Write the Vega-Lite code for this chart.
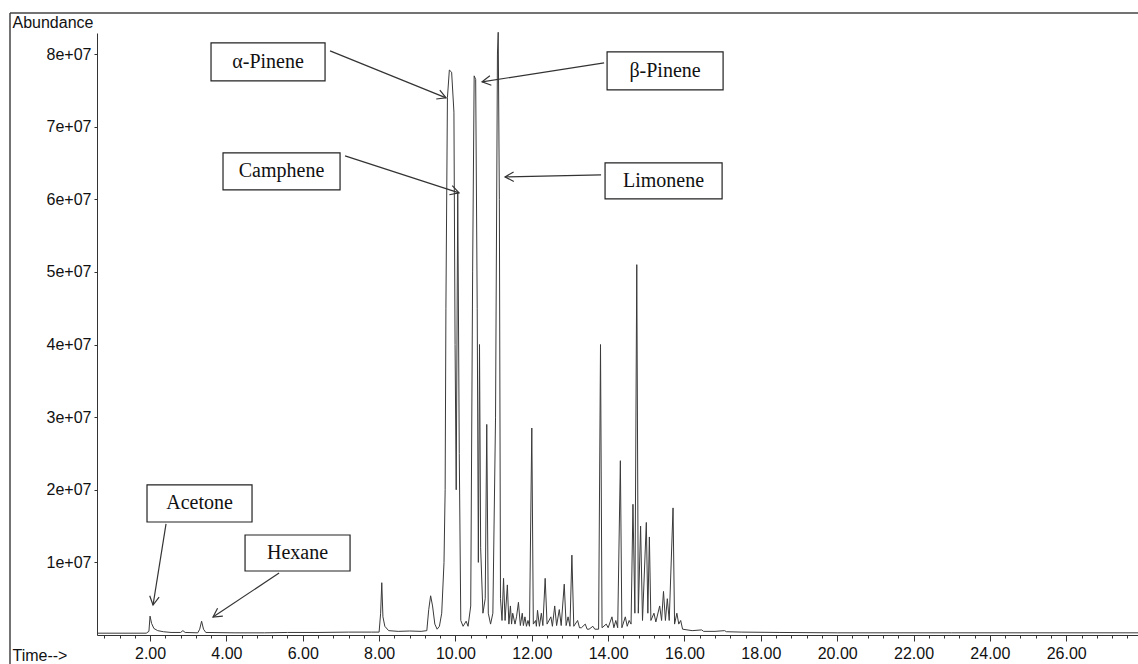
{
  "$schema": "https://vega.github.io/schema/vega-lite/v6.json",
  "width": 1041,
  "height": 602,
  "autosize": {"type": "none"},
  "padding": {"left": 97, "top": 33, "right": 0, "bottom": 29},
  "background": "white",
  "config": {"view": {"stroke": null}, "font": "Liberation Sans"},
  "resolve": {"axis": {"x": "independent", "y": "independent"}},
  "datasets": {
    "tic": [
      {"time": 0.61, "abundance": 250000}, {"time": 1.9, "abundance": 250000}, {"time": 1.97, "abundance": 500000},
      {"time": 2.0, "abundance": 2600000}, {"time": 2.04, "abundance": 1600000}, {"time": 2.1, "abundance": 900000},
      {"time": 2.2, "abundance": 600000}, {"time": 2.35, "abundance": 450000}, {"time": 2.55, "abundance": 350000},
      {"time": 2.8, "abundance": 350000}, {"time": 2.86, "abundance": 600000}, {"time": 2.92, "abundance": 350000},
      {"time": 3.25, "abundance": 300000}, {"time": 3.3, "abundance": 800000}, {"time": 3.35, "abundance": 1900000},
      {"time": 3.4, "abundance": 800000}, {"time": 3.46, "abundance": 350000}, {"time": 4.2, "abundance": 300000},
      {"time": 5.0, "abundance": 300000}, {"time": 5.6, "abundance": 350000}, {"time": 6.4, "abundance": 350000},
      {"time": 7.2, "abundance": 400000}, {"time": 7.8, "abundance": 400000}, {"time": 8.0, "abundance": 400000},
      {"time": 8.04, "abundance": 3000000}, {"time": 8.07, "abundance": 7200000}, {"time": 8.1, "abundance": 2500000},
      {"time": 8.15, "abundance": 1200000}, {"time": 8.25, "abundance": 600000}, {"time": 8.5, "abundance": 500000},
      {"time": 8.8, "abundance": 550000}, {"time": 9.1, "abundance": 500000}, {"time": 9.25, "abundance": 600000},
      {"time": 9.3, "abundance": 3500000}, {"time": 9.35, "abundance": 5400000}, {"time": 9.4, "abundance": 4000000},
      {"time": 9.46, "abundance": 1500000}, {"time": 9.52, "abundance": 800000}, {"time": 9.58, "abundance": 1200000},
      {"time": 9.64, "abundance": 3000000}, {"time": 9.7, "abundance": 10000000}, {"time": 9.73, "abundance": 20000000},
      {"time": 9.75, "abundance": 45000000}, {"time": 9.79, "abundance": 74000000}, {"time": 9.84, "abundance": 77800000},
      {"time": 9.9, "abundance": 77500000}, {"time": 9.96, "abundance": 72000000}, {"time": 9.99, "abundance": 40000000},
      {"time": 10.02, "abundance": 20000000}, {"time": 10.06, "abundance": 61000000}, {"time": 10.1, "abundance": 25000000},
      {"time": 10.14, "abundance": 2000000}, {"time": 10.2, "abundance": 1200000}, {"time": 10.28, "abundance": 1900000},
      {"time": 10.33, "abundance": 1200000}, {"time": 10.4, "abundance": 4000000}, {"time": 10.45, "abundance": 50000000},
      {"time": 10.49, "abundance": 77000000}, {"time": 10.53, "abundance": 76500000}, {"time": 10.57, "abundance": 45000000},
      {"time": 10.6, "abundance": 10000000}, {"time": 10.63, "abundance": 40000000}, {"time": 10.66, "abundance": 12000000},
      {"time": 10.72, "abundance": 3000000}, {"time": 10.78, "abundance": 5000000}, {"time": 10.82, "abundance": 29000000},
      {"time": 10.86, "abundance": 3000000}, {"time": 10.92, "abundance": 1500000}, {"time": 10.98, "abundance": 3000000},
      {"time": 11.05, "abundance": 30000000}, {"time": 11.1, "abundance": 80000000}, {"time": 11.12, "abundance": 83000000},
      {"time": 11.15, "abundance": 60000000}, {"time": 11.18, "abundance": 5000000}, {"time": 11.22, "abundance": 2000000},
      {"time": 11.26, "abundance": 7800000}, {"time": 11.3, "abundance": 2000000}, {"time": 11.36, "abundance": 6900000},
      {"time": 11.4, "abundance": 1500000}, {"time": 11.44, "abundance": 4000000}, {"time": 11.47, "abundance": 1500000},
      {"time": 11.5, "abundance": 3000000}, {"time": 11.56, "abundance": 1500000}, {"time": 11.6, "abundance": 2500000},
      {"time": 11.65, "abundance": 4500000}, {"time": 11.7, "abundance": 1300000}, {"time": 11.75, "abundance": 3000000},
      {"time": 11.78, "abundance": 1300000}, {"time": 11.82, "abundance": 2500000}, {"time": 11.86, "abundance": 1200000},
      {"time": 11.9, "abundance": 2000000}, {"time": 11.94, "abundance": 1200000}, {"time": 12.0, "abundance": 28500000},
      {"time": 12.04, "abundance": 1500000}, {"time": 12.1, "abundance": 2000000}, {"time": 12.12, "abundance": 1200000},
      {"time": 12.15, "abundance": 3400000}, {"time": 12.2, "abundance": 1200000}, {"time": 12.25, "abundance": 3000000},
      {"time": 12.29, "abundance": 1300000}, {"time": 12.35, "abundance": 7800000}, {"time": 12.4, "abundance": 1500000},
      {"time": 12.5, "abundance": 2500000}, {"time": 12.54, "abundance": 1200000}, {"time": 12.6, "abundance": 4000000},
      {"time": 12.65, "abundance": 1300000}, {"time": 12.72, "abundance": 3500000}, {"time": 12.77, "abundance": 1300000},
      {"time": 12.85, "abundance": 7000000}, {"time": 12.9, "abundance": 1300000}, {"time": 12.95, "abundance": 2500000},
      {"time": 13.0, "abundance": 1200000}, {"time": 13.05, "abundance": 11000000}, {"time": 13.1, "abundance": 1200000},
      {"time": 13.2, "abundance": 2000000}, {"time": 13.25, "abundance": 1000000}, {"time": 13.3, "abundance": 1000000},
      {"time": 13.4, "abundance": 1500000}, {"time": 13.45, "abundance": 800000}, {"time": 13.5, "abundance": 800000},
      {"time": 13.6, "abundance": 1200000}, {"time": 13.65, "abundance": 800000}, {"time": 13.75, "abundance": 800000},
      {"time": 13.8, "abundance": 40000000}, {"time": 13.84, "abundance": 1000000}, {"time": 13.95, "abundance": 1500000},
      {"time": 14.0, "abundance": 1000000}, {"time": 14.1, "abundance": 2500000}, {"time": 14.15, "abundance": 1000000},
      {"time": 14.2, "abundance": 2000000}, {"time": 14.25, "abundance": 1000000}, {"time": 14.32, "abundance": 24000000},
      {"time": 14.36, "abundance": 1000000}, {"time": 14.45, "abundance": 2500000}, {"time": 14.5, "abundance": 1200000},
      {"time": 14.55, "abundance": 2000000}, {"time": 14.6, "abundance": 1500000}, {"time": 14.65, "abundance": 18000000},
      {"time": 14.7, "abundance": 3000000}, {"time": 14.75, "abundance": 51000000}, {"time": 14.79, "abundance": 3000000},
      {"time": 14.85, "abundance": 15000000}, {"time": 14.9, "abundance": 2000000}, {"time": 15.0, "abundance": 15500000},
      {"time": 15.04, "abundance": 3000000}, {"time": 15.08, "abundance": 13500000}, {"time": 15.12, "abundance": 2000000},
      {"time": 15.2, "abundance": 3000000}, {"time": 15.25, "abundance": 1800000}, {"time": 15.35, "abundance": 4000000},
      {"time": 15.4, "abundance": 2000000}, {"time": 15.45, "abundance": 6000000}, {"time": 15.5, "abundance": 2000000},
      {"time": 15.55, "abundance": 5000000}, {"time": 15.6, "abundance": 2000000}, {"time": 15.7, "abundance": 17500000},
      {"time": 15.74, "abundance": 1500000}, {"time": 15.8, "abundance": 3000000}, {"time": 15.85, "abundance": 1500000},
      {"time": 15.9, "abundance": 2000000}, {"time": 15.95, "abundance": 800000}, {"time": 16.2, "abundance": 600000},
      {"time": 16.45, "abundance": 700000}, {"time": 16.5, "abundance": 500000}, {"time": 16.8, "abundance": 500000},
      {"time": 17.05, "abundance": 600000}, {"time": 17.1, "abundance": 450000}, {"time": 17.5, "abundance": 400000},
      {"time": 18.5, "abundance": 350000}, {"time": 20.0, "abundance": 300000}, {"time": 23.0, "abundance": 300000},
      {"time": 27.88, "abundance": 300000}
    ],
    "boxes": [
      {"label": "α-Pinene", "t1": 3.597, "t2": 6.584, "v1": 81540000, "v2": 76310000, "tc": 5.09, "vc": 78900000},
      {"label": "β-Pinene", "t1": 13.972, "t2": 17.011, "v1": 80300000, "v2": 75070000, "tc": 15.49, "vc": 77700000},
      {"label": "Camphene", "t1": 3.911, "t2": 6.977, "v1": 66390000, "v2": 61290000, "tc": 5.444, "vc": 63840000},
      {"label": "Limonene", "t1": 13.919, "t2": 16.985, "v1": 65010000, "v2": 60060000, "tc": 15.452, "vc": 62500000},
      {"label": "Acetone", "t1": 1.92, "t2": 4.671, "v1": 20660000, "v2": 15560000, "tc": 3.296, "vc": 18110000},
      {"label": "Hexane", "t1": 4.488, "t2": 7.239, "v1": 13770000, "v2": 8815000, "tc": 5.863, "vc": 11290000}
    ],
    "arrows": [
      {"label": "α-Pinene", "t1": 6.715, "v1": 80440000, "t2": 9.754, "v2": 73970000},
      {"label": "Camphene", "t1": 7.108, "v1": 65980000, "t2": 10.094, "v2": 60880000},
      {"label": "β-Pinene", "t1": 13.894, "v1": 78790000, "t2": 10.697, "v2": 76170000},
      {"label": "Limonene", "t1": 13.814, "v1": 63360000, "t2": 11.299, "v2": 63090000},
      {"label": "Acetone", "t1": 2.418, "v1": 15290000, "t2": 2.078, "v2": 4130000},
      {"label": "Hexane", "t1": 5.38, "v1": 8540000, "t2": 3.649, "v2": 2480000}
    ]
  },
  "layer": [
    {
      "data": {"values": [{}]},
      "mark": {"type": "rule", "clip": false, "color": "#444", "strokeWidth": 1.5},
      "encoding": {
        "x": {"datum": -1.669, "type": "quantitative", "axis": null},
        "y": {"datum": 85670000, "type": "quantitative", "axis": null},
        "y2": {"datum": -5000000}
      }
    },
    {
      "data": {"values": [{}]},
      "mark": {"type": "rule", "clip": false, "color": "#444", "strokeWidth": 1.5},
      "encoding": {
        "y": {"datum": 85670000, "type": "quantitative", "axis": null},
        "x": {"datum": -1.669, "type": "quantitative", "axis": null},
        "x2": {"datum": 27.88}
      }
    },
    {
      "data": {"name": "tic"},
      "mark": {"type": "line", "color": "#3a3a3a", "strokeWidth": 1},
      "encoding": {
        "x": {
          "field": "time", "type": "quantitative",
          "scale": {"domain": [0.61, 27.88], "nice": false, "zero": false},
          "axis": {
            "orient": "bottom",
            "title": "Time-->", "titleX": -85, "titleY": 20, "titleAlign": "left", "titleBaseline": "middle",
            "titleFontSize": 16, "titleFontWeight": "normal", "titleColor": "#111", "titleFont": "Liberation Sans",
            "values": [2, 4, 6, 8, 10, 12, 14, 16, 18, 20, 22, 24, 26],
            "format": ".2f", "tickSize": 6,
            "labelFontSize": 16, "labelColor": "#111", "labelPadding": 4, "labelOverlap": false, "labelFlush": false,
            "domainColor": "#333", "tickColor": "#333", "grid": false
          }
        },
        "y": {
          "field": "abundance", "type": "quantitative",
          "scale": {"domain": [0, 82900000], "nice": false},
          "axis": {
            "orient": "left",
            "title": "Abundance", "titleAngle": 0, "titleX": -85, "titleY": -11, "titleAlign": "left", "titleBaseline": "middle",
            "titleFontSize": 16, "titleFontWeight": "normal", "titleColor": "#111", "titleFont": "Liberation Sans",
            "values": [10000000, 20000000, 30000000, 40000000, 50000000, 60000000, 70000000, 80000000],
            "labelExpr": "format(datum.value/10000000, 'd') + 'e+07'",
            "labelFontSize": 16, "labelColor": "#111", "labelPadding": 3, "tickSize": 3,
            "domainColor": "#333", "tickColor": "#333", "grid": false
          }
        }
      }
    },
    {
      "data": {"name": "arrows"},
      "mark": {"type": "rule", "color": "#333", "strokeWidth": 1.2},
      "encoding": {
        "x": {"field": "t1", "type": "quantitative", "axis": null},
        "y": {"field": "v1", "type": "quantitative", "axis": null},
        "x2": {"field": "t2"}, "y2": {"field": "v2"}
      }
    },
    {
      "data": {"name": "arrows"},
      "mark": {
        "type": "point", "shape": "M -1 -0.55 L 0 0 L -1 0.55", "filled": false, "size": 300, "color": "#333", "strokeWidth": 1.2, "opacity": 1,
        "angle": {"expr": "atan2(scale('y', datum.v2) - scale('y', datum.v1), scale('x', datum.t2) - scale('x', datum.t1)) * 180 / PI"}
      },
      "encoding": {
        "x": {"field": "t2", "type": "quantitative", "axis": null},
        "y": {"field": "v2", "type": "quantitative", "axis": null}
      }
    },
    {
      "data": {"name": "boxes"},
      "mark": {"type": "rect", "fill": "white", "stroke": "#222", "strokeWidth": 1.2},
      "encoding": {
        "x": {
          "field": "t1", "type": "quantitative",
          "axis": {
            "orient": "bottom",
            "title": null, "labels": false, "domain": false, "grid": false, "tickSize": 3, "tickColor": "#333",
            "values": [0.8, 1.2, 1.6, 2.4, 2.8, 3.2, 3.6, 4.4, 4.8, 5.2, 5.6, 6.4, 6.8, 7.2, 7.6, 8.4, 8.8, 9.2, 9.6, 10.4, 10.8, 11.2, 11.6, 12.4, 12.8, 13.2, 13.6, 14.4, 14.8, 15.2, 15.6, 16.4, 16.8, 17.2, 17.6, 18.4, 18.8, 19.2, 19.6, 20.4, 20.8, 21.2, 21.6, 22.4, 22.8, 23.2, 23.6, 24.4, 24.8, 25.2, 25.6, 26.4, 26.8, 27.2, 27.6]
          }
        },
        "x2": {"field": "t2"},
        "y": {"field": "v1", "type": "quantitative", "axis": null}, "y2": {"field": "v2"}
      }
    },
    {
      "data": {"name": "boxes"},
      "mark": {"type": "text", "font": "Liberation Serif", "fontSize": 20, "color": "#111", "align": "center", "baseline": "middle"},
      "encoding": {
        "x": {"field": "tc", "type": "quantitative", "axis": null},
        "y": {"field": "vc", "type": "quantitative", "axis": null},
        "text": {"field": "label"}
      }
    }
  ]
}
